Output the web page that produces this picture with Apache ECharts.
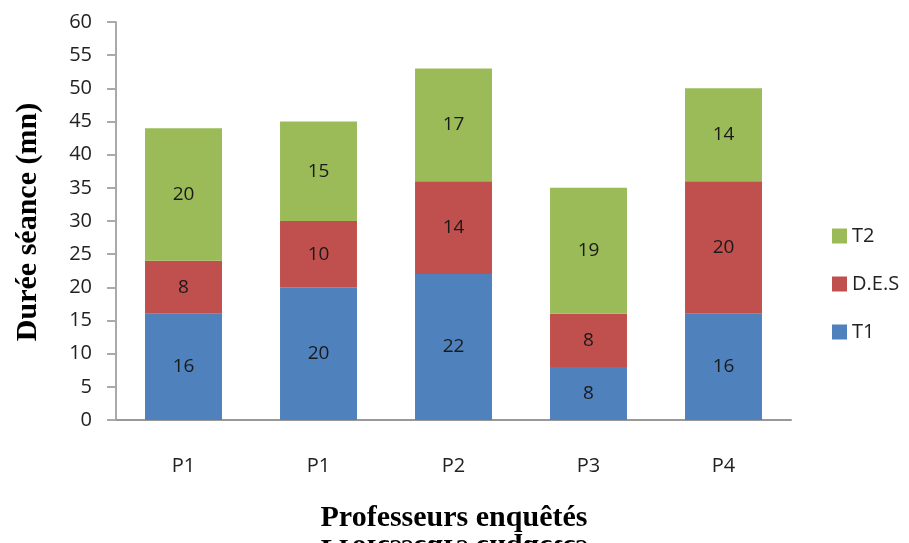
<!DOCTYPE html>
<html>
<head>
<meta charset="utf-8">
<script src="https://cdn.jsdelivr.net/npm/echarts@6/dist/echarts.min.js"></script>
<style>
  html, body { margin: 0; padding: 0; background: #fff; }
  #chart { width: 909px; height: 543px; }
</style>
</head>
<body>
<div id="chart"></div>
<script>
const categories = ["P1", "P1", "P2", "P3", "P4"];
const t1 = [16, 20, 22, 8, 16];
const des = [8, 10, 14, 8, 20];
const t2 = [20, 15, 17, 19, 14];

const font = "'Open Sans', 'Noto Sans', sans-serif";
const titleFont = "'Liberation Serif', 'DejaVu Serif', serif";

var myChart = echarts.init(document.getElementById("chart"));

function bar(name, data, color) {
  return {
    name: name,
    type: "bar",
    stack: "total",
    data: data,
    barWidth: "57%",
    itemStyle: { color: color },
    label: {
      show: true,
      position: "inside",
      color: "#1a1a1a",
      fontFamily: font,
      fontSize: 19,
    },
  };
}

var option = {
  animation: false,
  grid: { left: 116, right: 118, top: 22, bottom: 123 },
  xAxis: {
    type: "category",
    data: categories,
    axisLine: { lineStyle: { color: "#999", width: 2 } },
    axisTick: { show: false },
    axisLabel: { color: "#222", fontFamily: font, fontSize: 20, margin: 36 },
  },
  yAxis: {
    type: "value",
    min: 0,
    max: 60,
    interval: 5,
    splitLine: { show: false },
    axisLine: { show: true, lineStyle: { color: "#aaa", width: 2 } },
    axisTick: { show: true, length: 9, lineStyle: { color: "#aaa", width: 2 } },
    axisLabel: { color: "#222", fontFamily: font, fontSize: 20, margin: 24 },
  },
  legend: {
    orient: "vertical",
    left: 827,
    top: 221,
    itemGap: 28,
    itemWidth: 15,
    itemHeight: 15,
    icon: "rect",
    data: ["T2", "D.E.S", "T1"],
    textStyle: { color: "#222", fontFamily: font, fontSize: 20 },
  },
  graphic: [
    {
      type: "text",
      x: 28,
      y: 222,
      rotation: Math.PI / 2,
      style: {
        text: "Durée séance (mn)",
        font: "bold 30px " + titleFont,
        fill: "#000",
        align: "center",
        verticalAlign: "middle",
      },
    },
    {
      type: "text",
      x: 454,
      y: 533,
      style: {
        text: "Professeurs enquêtés",
        font: "bold 30px " + titleFont,
        fill: "#000",
        align: "center",
        verticalAlign: "bottom",
      },
    },
    {
      type: "text",
      x: 454,
      y: 533,
      scaleY: -1,
      style: {
        text: "Professeurs enquêtés",
        font: "bold 30px " + titleFont,
        fill: "#000",
        align: "center",
        verticalAlign: "bottom",
      },
    },
  ],
  series: [
    bar("T1", t1, "#4F81BD"),
    bar("D.E.S", des, "#C0504D"),
    bar("T2", t2, "#9BBB59"),
  ],
};
myChart.setOption(option);
</script>
</body>
</html>
